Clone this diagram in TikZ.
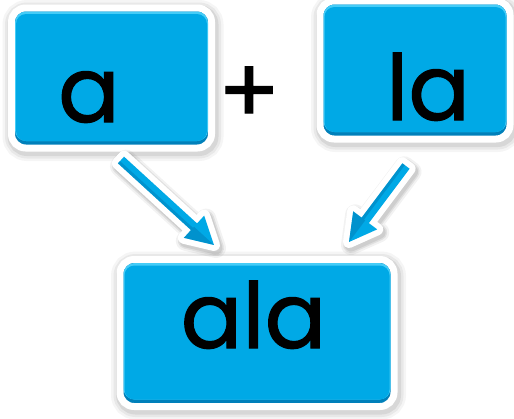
\documentclass[tikz,border=0pt]{standalone}
\usepackage{fontspec}
\setmainfont{Poppins}[FakeBold=1.2]
\usetikzlibrary{calc}
\definecolor{boxblue}{HTML}{00A9E6}
\definecolor{boxdark}{HTML}{0080BA}
\definecolor{boxlight}{HTML}{45CCF7}
\newcommand\arrowpoly[1]{(0,-4.5) -- (#1-27,-4.5) -- (#1-27,-15) -- (#1,0) -- (#1-27,15) -- (#1-27,4.5) -- (0,4.5) -- cycle}
\newcommand\arrowhalf[1]{(#1-27,0) -- (#1,0) -- (#1-27,15) -- cycle}
\newcommand\arrowedge[1]{(0,1.5) -- (#1-27,1.5) -- (#1-27,4.5) -- (0,4.5) -- cycle}
\newcommand\glossyarrow[2]{%
  \path[arrowshadow, line width=20pt, opacity=0.05] let \p1=($(#2)-(#1)$), \n1={atan2(\y1,\x1)}, \n2={veclen(\x1,\y1)} in [shift={($(#1)+(2,3)$)}, rotate=\n1] \arrowpoly{\n2};
  \path[arrowshadow, line width=16pt, opacity=0.07] let \p1=($(#2)-(#1)$), \n1={atan2(\y1,\x1)}, \n2={veclen(\x1,\y1)} in [shift={($(#1)+(2,3)$)}, rotate=\n1] \arrowpoly{\n2};
  \path[arrowshadow, line width=13pt, opacity=0.08] let \p1=($(#2)-(#1)$), \n1={atan2(\y1,\x1)}, \n2={veclen(\x1,\y1)} in [shift={($(#1)+(2,3)$)}, rotate=\n1] \arrowpoly{\n2};
  \path[arrowwhite] let \p1=($(#2)-(#1)$), \n1={atan2(\y1,\x1)}, \n2={veclen(\x1,\y1)} in [shift={(#1)}, rotate=\n1] \arrowpoly{\n2};
  \path[arrowblue] let \p1=($(#2)-(#1)$), \n1={atan2(\y1,\x1)}, \n2={veclen(\x1,\y1)} in [shift={(#1)}, rotate=\n1] \arrowpoly{\n2};
  \path[arrowdark] let \p1=($(#2)-(#1)$), \n1={atan2(\y1,\x1)}, \n2={veclen(\x1,\y1)} in [shift={(#1)}, rotate=\n1] \arrowhalf{\n2};
  \path[arrowdark] let \p1=($(#2)-(#1)$), \n1={atan2(\y1,\x1)}, \n2={veclen(\x1,\y1)} in [shift={(#1)}, rotate=\n1] \arrowedge{\n2};
}
\begin{document}
\begin{tikzpicture}[x=1pt,y=-1pt,
  box/.style 2 args={draw=white, line width=7pt, fill=boxdark, rounded corners=14pt,
    inner sep=0pt, outer sep=0pt, minimum width=#1, minimum height=#2,
    preaction={draw=black, opacity=0.04, line width=21pt, transform canvas={xshift=1.5pt, yshift=-2.5pt}},
    preaction={draw=black, opacity=0.05, line width=16pt, transform canvas={xshift=1.5pt, yshift=-2.5pt}},
    preaction={draw=black, opacity=0.07, line width=11pt, transform canvas={xshift=1.5pt, yshift=-2.5pt}}},
  txt/.style={anchor=base, inner sep=0pt, text=black, font=\fontsize{91}{91}\selectfont},
  arrowshadow/.style={fill=black, draw=black, line join=round},
  arrowwhite/.style={fill=white, draw=white, line width=12pt, line join=round},
  arrowblue/.style={fill=boxblue},
  arrowdark/.style={fill=boxdark, opacity=0.55}]
\fill[white] (0,0) rectangle (514,418);
\useasboundingbox (0,0) rectangle (514,418);
\node[box={200pt}{140pt}] (boxa) at (111.5,78) {};
\node[box={190pt}{138pt}] (boxla) at (415,70) {};
\node[box={274pt}{147pt}] (boxala) at (257,333) {};
\foreach \b in {boxa,boxla,boxala} {
  \fill[boxlight, rounded corners=11pt] ($(\b.north west)+(3.5,3.5)$) rectangle ($(\b.south east)+(-3.5,-7)$);
  \fill[boxblue, rounded corners=10pt] ($(\b.north west)+(4.5,6)$) rectangle ($(\b.south east)+(-4.5,-7)$);
}
\node[txt] (ta) at (89,122) {a};
\node[txt] (tla) at (428,120) {la};
\node[txt] (tala) at (253.5,348) {ala};
\node[txt, anchor=center] (plus) at (249,95) {+};
\coordinate (s1) at ($(boxa.south)+(9.5,12)$);
\coordinate (e1) at ($(boxala.north)+(-43,-14.5)$);
\coordinate (s2) at ($(boxla.south)+(-9,27)$);
\coordinate (e2) at ($(boxala.north)+(92,-17.5)$);
\glossyarrow{s1}{e1}
\glossyarrow{s2}{e2}
\end{tikzpicture}
\end{document}
